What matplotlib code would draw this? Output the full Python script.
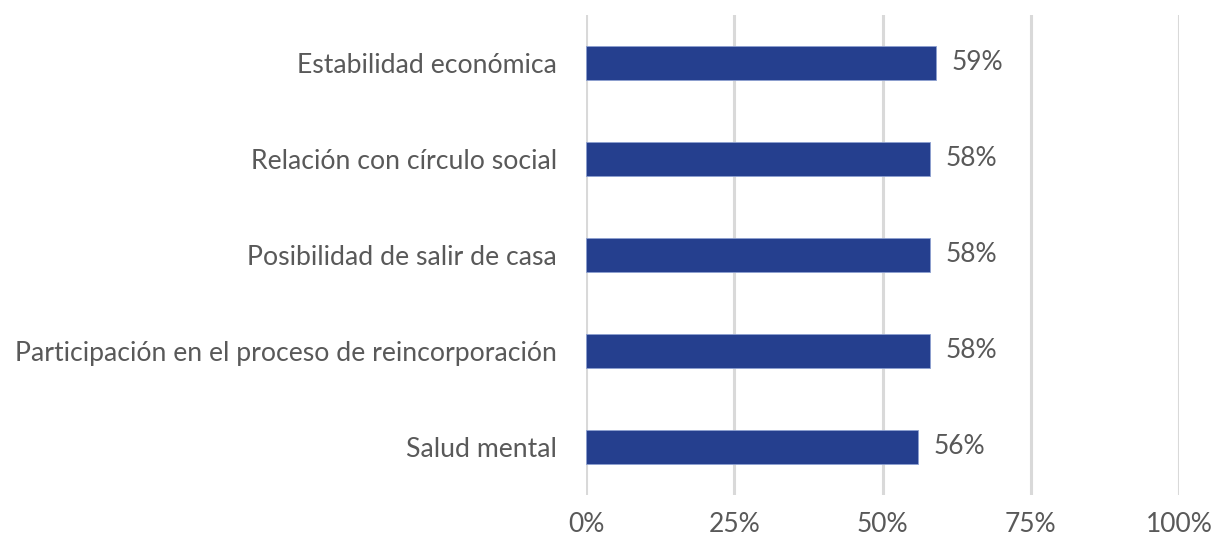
import numpy as np
import matplotlib.pyplot as plt

categories = ['Estabilidad económica', 'Relación con círculo social',
              'Posibilidad de salir de casa',
              'Participación en el proceso de reincorporación', 'Salud mental']
values = [59, 58, 58, 58, 56]
xticks = [0, 25, 50, 75, 100]
xtick_labels = ['0%', '25%', '50%', '75%', '100%']

plt.rcParams['font.family'] = ['Lato', 'DejaVu Sans']
text_color = '#595959'
bar_color = '#253F8E'

fig = plt.figure(figsize=(12.14, 5.39), dpi=100)
ax = fig.add_axes([586 / 1214, 1 - 495 / 539, (1179 - 586) / 1214, 480 / 539])

y = np.arange(len(categories))[::-1]
ax.barh(y, values, height=0.35, color=bar_color, edgecolor='#8da0d0', linewidth=0.6, zorder=3)
for yi, v in zip(y, values):
    ax.text(v + 2.6, yi, f'{v}%', va='center', ha='left', fontsize=19, color=text_color)

ax.set_xlim(0, 100)
ax.set_ylim(-0.5, 4.5)
ax.set_yticks(y)
ax.set_yticklabels(categories, fontsize=19.2, color=text_color)
ax.set_xticks(xticks)
ax.set_xticklabels(xtick_labels, fontsize=19, color=text_color)
ax.tick_params(axis='y', length=0, pad=21)
ax.tick_params(axis='x', length=0, pad=12)
ax.grid(axis='x', color='#d9d9d9', linewidth=2.2, zorder=0)
for s in ax.spines.values():
    s.set_visible(False)

fig.savefig('out.png', dpi=100)
